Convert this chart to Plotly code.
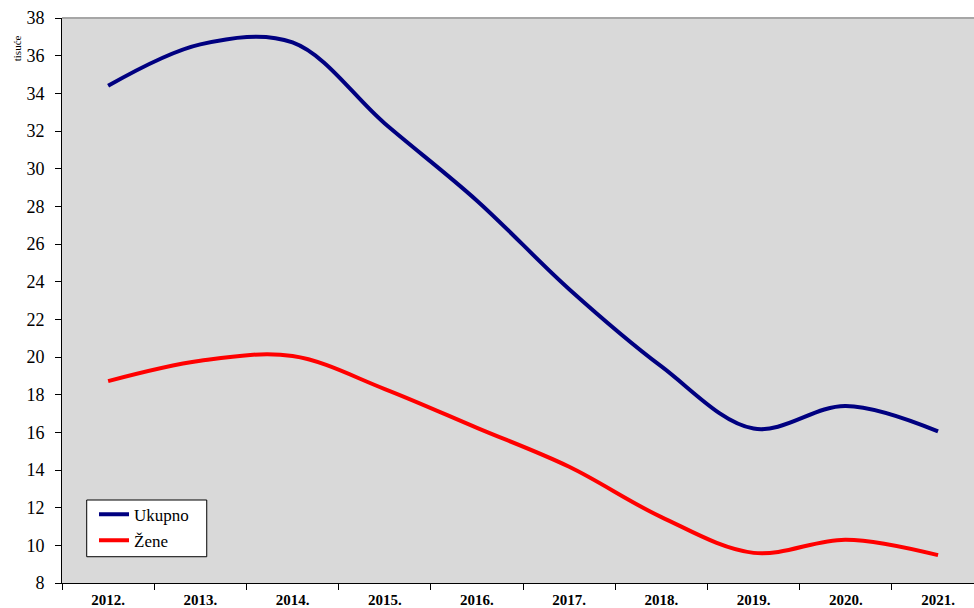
import plotly.graph_objects as go

years = ["2012.", "2013.", "2014.", "2015.", "2016.", "2017.", "2018.", "2019.", "2020.", "2021."]
ukupno = [34.4, 36.6, 36.7, 32.4, 28.3, 23.6, 19.5, 16.2, 17.4, 16.05]
zene = [18.72, 19.8, 20.05, 18.3, 16.24, 14.17, 11.5, 9.6, 10.3, 9.48]

fig = go.Figure()
fig.add_trace(go.Scatter(x=years, y=ukupno, name="Ukupno", mode="lines", legendgroup="u",
                         line=dict(color="#000080", width=4, shape="spline", smoothing=1)))
fig.add_trace(go.Scatter(x=years, y=zene, name="Žene", mode="lines", legendgroup="z",
                         line=dict(color="#FF0000", width=4, shape="spline", smoothing=1)))

font_family = "Liberation Serif, Times New Roman, serif"

fig.update_layout(
    width=974, height=608,
    margin=dict(l=62, r=0, t=18, b=25),
    paper_bgcolor="white",
    plot_bgcolor="#D9D9D9",
    font=dict(family=font_family, color="black"),
    showlegend=True,
    legend=dict(x=0.0351, y=0.1527, xanchor="left", yanchor="top",
                bgcolor="rgba(0,0,0,0)", borderwidth=0,
                font=dict(family=font_family, size=17, color="black"),
                tracegroupgap=1),
    xaxis=dict(type="category", showgrid=False, zeroline=False,
               showline=True, linecolor="black", linewidth=1,
               ticks="outside", ticklen=6, tickcolor="black", tickson="boundaries",
               ticklabelstandoff=3,
               tickfont=dict(family=font_family, size=15, color="black", weight="bold"),
               range=[-0.5, 9.39], automargin=False),
    yaxis=dict(range=[8, 38], dtick=2, tick0=8, showgrid=False, zeroline=False,
               showline=True, linecolor="black", linewidth=1,
               ticks="outside", ticklen=6, tickcolor="black", automargin=False,
               ticklabelstandoff=7,
               tickfont=dict(family=font_family, size=18, color="black")),
    annotations=[dict(text="tisuće", xref="paper", yref="paper", x=-0.049, y=0.947,
                      xanchor="center", yanchor="middle", showarrow=False, textangle=-90,
                      font=dict(family=font_family, size=11, color="black"))],
    shapes=[
        dict(type="line", xref="paper", yref="paper", x0=0, x1=1, y0=1, y1=1,
             line=dict(color="#A6A6A6", width=2)),
        dict(type="rect", xref="paper", yref="paper", x0=0.0271, x1=0.1587, y0=0.0465, y1=0.1469,
             fillcolor="white", line=dict(color="black", width=1), layer="above"),
    ],
)

fig.write_html("out.html", config={"displayModeBar": False},
               post_script="document.body.style.margin='0';document.body.style.overflow='hidden';")
